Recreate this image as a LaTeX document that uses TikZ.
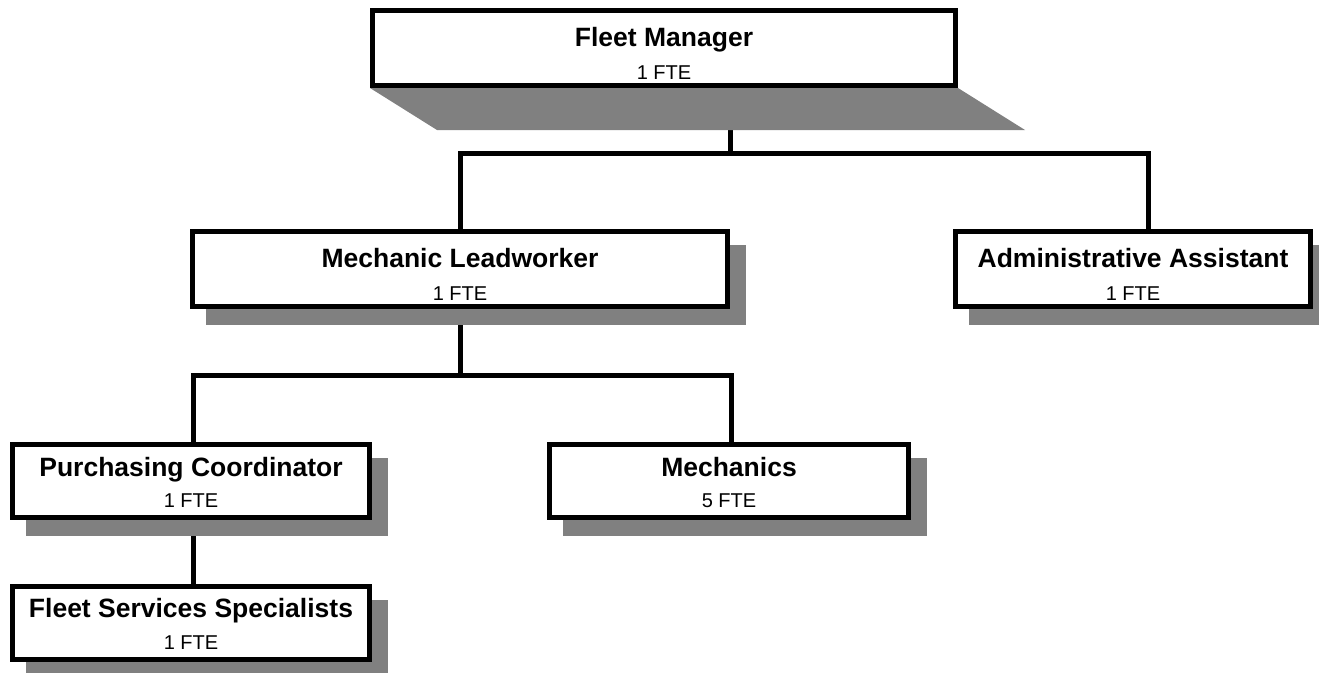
\documentclass[tikz,border=0pt]{standalone}
\usepackage{fontspec}
\setmainfont{Liberation Sans}
\usetikzlibrary{calc}
\definecolor{shadowgray}{HTML}{808080}
\pgfdeclarelayer{lines}
\pgfdeclarelayer{shadows}
\pgfsetlayers{lines,shadows,main}
\begin{document}
\begin{tikzpicture}[x=1pt,y=-1pt,
  orgbox/.style={draw=black, line width=5pt, fill=white, inner sep=0pt, outer sep=0pt},
  ttl/.style={font=\fontsize{26.5}{30}\selectfont\bfseries, anchor=base, inner sep=0pt},
  sub/.style={font=\fontsize{20}{24}\selectfont, anchor=base, inner sep=0pt},
  conn/.style={line width=5pt, line join=miter},
  shd/.style={fill=shadowgray}]
\useasboundingbox (0,0) rectangle (1319,672);
\clip (0,0) rectangle (1319,672);

% boxes
\node[orgbox, minimum width=583pt, minimum height=75pt] (fm) at (664,48) {};
\node[orgbox, minimum width=535pt, minimum height=75pt] (ml) at (460,269) {};
\node[orgbox, minimum width=355pt, minimum height=75pt] (aa) at (1133,269) {};
\node[orgbox, minimum width=357pt, minimum height=73pt] (pc) at (191,480.5) {};
\node[orgbox, minimum width=359pt, minimum height=73pt] (mc) at (729,480.5) {};
\node[orgbox, minimum width=357pt, minimum height=73pt] (fss) at (191,622.5) {};

% texts
\node[ttl] (fmt) at (664,46.5) {Fleet Manager};
\node[sub] (fms) at (664,79) {1 FTE};
\node[ttl] (mlt) at (460,267.5) {Mechanic Leadworker};
\node[sub] (mls) at (460,300) {1 FTE};
\node[ttl] (aat) at (1133,267.5) {Administrative Assistant};
\node[sub] (aas) at (1133,300) {1 FTE};
\node[ttl] (pct) at (191,476.5) {Purchasing Coordinator};
\node[sub] (pcs) at (191,507) {1 FTE};
\node[ttl] (mct) at (729,476.5) {Mechanics};
\node[sub] (mcs) at (729,507) {5 FTE};
\node[ttl] (fsst) at (191,617.5) {Fleet Services Specialists};
\node[sub] (fsss) at (191,649) {1 FTE};

% connector points
\coordinate (fmdrop) at ($(fm.south)+(66,0)$);
\coordinate (aain) at ($(aa.north)+(15,0)$);
\coordinate (pcin) at ($(pc.north)+(2,0)$);
\coordinate (mcin) at ($(mc.north)+(2,0)$);
\coordinate (pcout) at ($(pc.south)+(2,0)$);

\begin{pgfonlayer}{shadows}
  \fill[shd] ($(fm.south west)+(-2.5,2.5)$) -- ($(fm.south east)+(2.5,2.5)$)
     -- ($(fm.south east)+(69.5,44.5)$) -- ($(fm.south west)+(64.5,44.5)$) -- cycle;
  \foreach \b in {ml,aa,pc,mc,fss}{
    \fill[shd] ($(\b.north west)+(13.5,13.5)$) rectangle ($(\b.south east)+(18.5,18.5)$);
  }
\end{pgfonlayer}

\begin{pgfonlayer}{lines}
  \draw[conn] (fmdrop) -- (fmdrop |- 0,153);
  \draw[conn] (ml.north) -- (ml.north |- 0,153) -- (aain |- 0,153) -- (aain);
  \draw[conn] (ml.south) -- (ml.south |- 0,375);
  \draw[conn] (pcin) -- (pcin |- 0,375) -- (mcin |- 0,375) -- (mcin);
  \draw[conn] (pcout) -- (fss.north -| pcout);
\end{pgfonlayer}
\end{tikzpicture}
\end{document}
